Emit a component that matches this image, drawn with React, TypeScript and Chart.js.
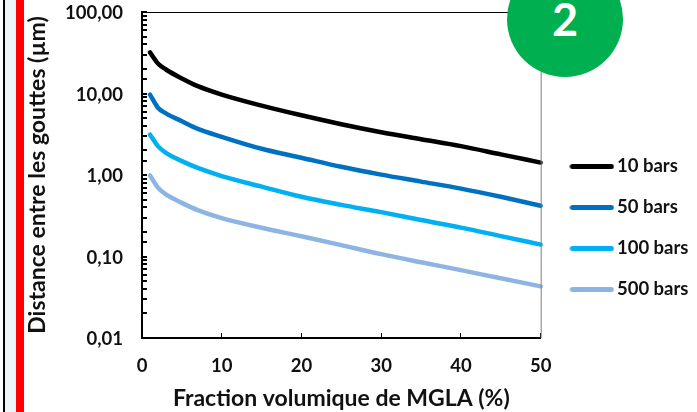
import React, { useEffect, useRef } from "react";
import { Chart, registerables } from "chart.js";

Chart.register(...registerables);

const fractions = [1, 2, 3, 5, 7, 10, 15, 20, 25, 30, 35, 40, 45, 50];
const bars10 = [32, 23.3, 19.7, 15.3, 12.3, 9.7, 7.1, 5.4, 4.2, 3.35, 2.75, 2.26, 1.79, 1.42];
const bars50 = [9.7, 6.7, 5.7, 4.57, 3.68, 2.94, 2.1, 1.63, 1.26, 1.01, 0.83, 0.68, 0.54, 0.42];
const bars100 = [3.14, 2.26, 1.87, 1.48, 1.22, 0.97, 0.72, 0.54, 0.43, 0.35, 0.28, 0.226, 0.178, 0.14];
const bars500 = [0.99, 0.7, 0.58, 0.455, 0.37, 0.295, 0.225, 0.177, 0.138, 0.107, 0.085, 0.068, 0.054, 0.043];
const seriesNames = ["10 bars", "50 bars", "100 bars", "500 bars"];
const seriesValues = [bars10, bars50, bars100, bars500];
const seriesColors = ["#000000", "#0070C0", "#00B0F0", "#8EB4E3"];
const xTitle = "Fraction volumique de MGLA (%)";
const yTitle = "Distance entre les gouttes (µm)";
const badgeLabel = "2";
const FONT = "Lato, 'Open Sans', sans-serif";

function legendLine(color: string) {
  const c = document.createElement("canvas");
  c.width = 45;
  c.height = 7;
  const g = c.getContext("2d")!;
  g.strokeStyle = color;
  g.lineWidth = 5;
  g.lineCap = "round";
  g.beginPath();
  g.moveTo(3, 3.5);
  g.lineTo(42, 3.5);
  g.stroke();
  return c;
}

const frameLines = {
  id: "frameLines",
  afterLayout(chart: any) {
    const lg = chart.legend;
    lg.top += 53;
    lg.bottom += 53;
    lg.left += 13;
    lg.right += 13;
  },
  afterDatasetsDraw(chart: any) {
    const { ctx, chartArea: a } = chart;
    ctx.save();
    ctx.lineWidth = 1;
    ctx.strokeStyle = "#000";
    ctx.beginPath();
    ctx.moveTo(a.left, a.top + 0.5);
    ctx.lineTo(a.right, a.top + 0.5);
    ctx.stroke();
    ctx.strokeStyle = "#7f7f7f";
    ctx.beginPath();
    ctx.moveTo(a.right + 0.5, a.top);
    ctx.lineTo(a.right + 0.5, a.bottom);
    ctx.stroke();
    ctx.restore();
  },
};

export default function App() {
  const ref = useRef<HTMLCanvasElement>(null);
  useEffect(() => {
    document.body.style.margin = "0";
    const chart = new Chart(ref.current!, {
      type: "line",
      plugins: [frameLines],
      data: {
        datasets: seriesNames.map((name, i) => ({
          label: name,
          data: fractions.map((x, j) => ({ x, y: seriesValues[i][j] })),
          borderColor: seriesColors[i],
          backgroundColor: seriesColors[i],
          borderWidth: 4.5,
          borderCapStyle: "round",
          pointRadius: 0,
          pointStyle: legendLine(seriesColors[i]),
          cubicInterpolationMode: "monotone",
          clip: false,
        })),
      } as any,
      options: {
        animation: false,
        responsive: false,
        devicePixelRatio: 1,
        layout: { padding: { left: 24, top: 12, right: 11.5, bottom: 0 } },
        plugins: {
          tooltip: { enabled: false },
          legend: {
            position: "right",
            align: "center",
            fullSize: false,
            labels: {
              usePointStyle: true,
              pointStyleWidth: 31.5,
              padding: 22.5,
              color: "#111",
              font: { family: FONT, size: 18.5, weight: "bold" },
            },
          },
        },
        scales: {
          x: {
            type: "linear",
            min: 0,
            max: 50,
            grid: { drawOnChartArea: false, tickLength: -5, color: "#000", lineWidth: 1 },
            border: { color: "#000", width: 2 },
            afterFit(s: any) {
              s.paddingLeft = 0;
              s.paddingRight = 0;
              s.height = 74;
            },
            ticks: {
              stepSize: 10,
              padding: 22,
              maxRotation: 0,
              color: "#111",
              font: { family: FONT, size: 18.5, weight: "bold" },
            },
            title: {
              display: true,
              text: xTitle,
              color: "#111",
              font: { family: FONT, size: 23, weight: "bold" },
              padding: { top: 7, bottom: 0 },
            },
          },
          y: {
            type: "logarithmic",
            min: 0.01,
            max: 100,
            grid: { drawOnChartArea: false, tickLength: -5, color: "#000", lineWidth: 2 },
            border: { color: "#000", width: 2 },
            afterFit(s: any) {
              s.width = 118;
              s.paddingTop = 0;
              s.paddingBottom = 0;
            },
            ticks: {
              autoSkip: false,
              padding: 24,
              labelOffset: 1.5,
              color: "#111",
              font: { family: FONT, size: 18.5, weight: "bold" },
              callback(v: any) {
                const n = Number(v);
                const l = Math.log10(n);
                return Math.abs(l - Math.round(l)) < 1e-6 ? n.toFixed(2).replace(".", ",") : "";
              },
            },
            title: {
              display: true,
              text: yTitle,
              color: "#111",
              font: { family: FONT, size: 23, weight: "bold" },
              padding: 0,
            },
          },
        },
      } as any,
    });
    return () => chart.destroy();
  }, []);

  return (
    <div style={{ position: "relative", width: 697, height: 412, overflow: "hidden", background: "#fff" }}>
      <div style={{ position: "absolute", left: 3, top: 0, width: 1.5, height: 412, background: "#000" }} />
      <div style={{ position: "absolute", left: 4.5, top: 0, width: 11.5, height: 412, background: "#eef5f8" }} />
      <div style={{ position: "absolute", left: 16, top: 0, width: 8, height: 412, background: "#ff0000" }} />
      <canvas ref={ref} width={697} height={412} style={{ position: "absolute", left: 0, top: 0 }} />
      <div
        style={{
          position: "absolute",
          left: 507,
          top: -39,
          width: 116,
          height: 116,
          borderRadius: "50%",
          background: "#00B050",
          color: "#fff",
          fontFamily: FONT,
          fontWeight: 700,
          fontSize: 45,
          display: "flex",
          alignItems: "center",
          justifyContent: "center",
        }}
      >
        <span>{badgeLabel}</span>
      </div>
    </div>
  );
}
